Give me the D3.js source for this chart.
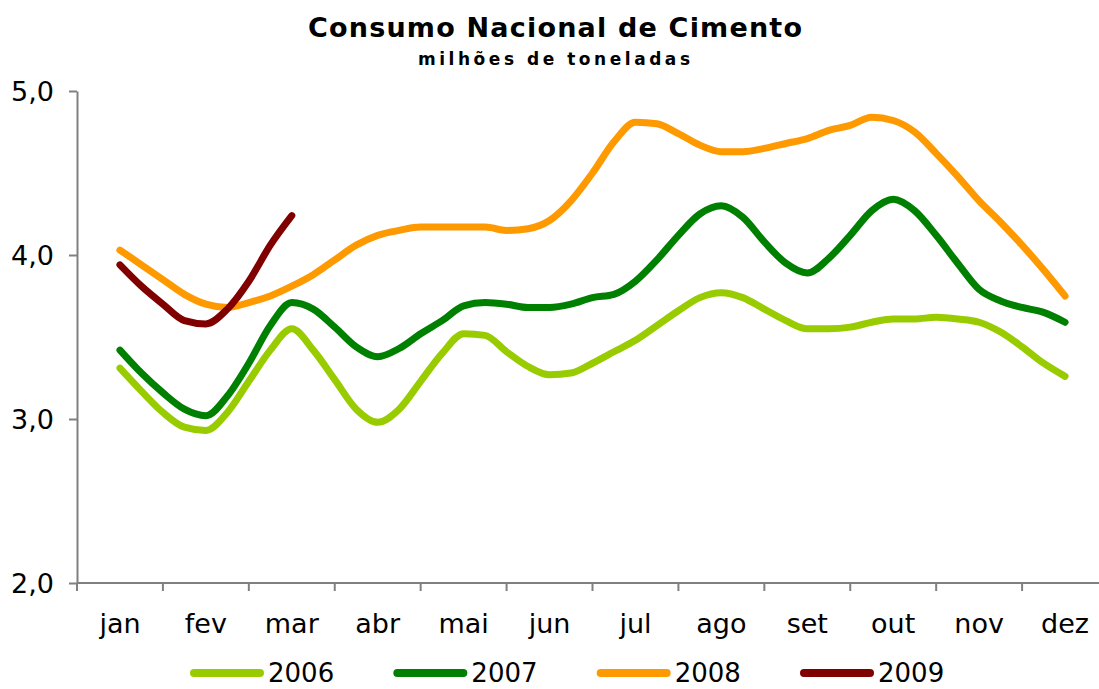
<!DOCTYPE html>
<html>
<head>
<meta charset="utf-8">
<script src="https://cdn.jsdelivr.net/npm/d3@7"></script>
<style>
  html, body { margin: 0; padding: 0; background: #fff; }
  svg { display: block; }
  text { font-family: "DejaVu Sans", Verdana, sans-serif; fill: #000; }
</style>
</head>
<body>
<svg id="chart" width="1099" height="689"></svg>
<script>
// ---- data ----
const months = ["jan","fev","mar","abr","mai","jun","jul","ago","set","out","nov","dez"];
const yTickValues = [2, 3, 4, 5];
const yTickLabels = ["2,0", "3,0", "4,0", "5,0"];
const pointsPerMonth = 4; // samples read every quarter of a month
const years = ["2006", "2007", "2008", "2009"];
const s2006 = [3.31,3.17,3.04,2.95,2.93,3.04,3.23,3.42,3.55,3.42,3.24,3.06,2.98,3.06,3.23,3.40,3.52,3.51,3.41,3.32,3.27,3.28,3.34,3.41,3.48,3.57,3.66,3.74,3.77,3.74,3.67,3.60,3.55,3.55,3.56,3.59,3.61,3.61,3.62,3.61,3.59,3.53,3.44,3.34,3.26];
const s2007 = [3.42,3.28,3.16,3.06,3.02,3.14,3.34,3.57,3.71,3.67,3.56,3.44,3.38,3.43,3.52,3.60,3.69,3.71,3.70,3.68,3.68,3.70,3.74,3.76,3.84,3.97,4.12,4.25,4.30,4.23,4.08,3.95,3.89,3.98,4.12,4.27,4.34,4.27,4.12,3.95,3.79,3.72,3.68,3.65,3.59];
const s2008 = [4.03,3.94,3.85,3.76,3.70,3.68,3.71,3.75,3.81,3.88,3.97,4.06,4.12,4.15,4.17,4.17,4.17,4.17,4.15,4.16,4.21,4.33,4.50,4.69,4.81,4.80,4.74,4.67,4.63,4.63,4.65,4.68,4.71,4.76,4.79,4.84,4.82,4.75,4.62,4.48,4.33,4.20,4.06,3.91,3.75];
const s2009 = [3.94,3.81,3.70,3.60,3.58,3.67,3.84,4.06,4.24];
const colors = ["#99CC00", "#008000", "#FF9900", "#800000"];

const seriesList = [s2006, s2007, s2008, s2009];

// ---- layout ----
const svg = d3.select("#chart");
const plotLeft = 77, plotRight = 1108, plotTop = 91, plotBottom = 583;

const xBand = d3.scaleBand().domain(months).range([plotLeft, plotRight]).padding(0);
const x = d3.scaleLinear().domain([-0.5, months.length - 0.5]).range([plotLeft, plotRight]);
const y = d3.scaleLinear().domain([2, 5]).range([plotBottom, plotTop]);

// title
svg.append("text")
  .attr("x", 555).attr("y", 37)
  .attr("text-anchor", "middle")
  .attr("textLength", 494).attr("lengthAdjust", "spacing")
  .style("font-weight", "bold").style("font-size", "27px")
  .text("Consumo Nacional de Cimento");
svg.append("text")
  .attr("x", 554).attr("y", 65)
  .attr("text-anchor", "middle")
  .attr("textLength", 272).attr("lengthAdjust", "spacing")
  .style("font-weight", "bold").style("font-size", "17px")
  .text("milhões de toneladas");

// y axis
const yAxis = d3.axisLeft(y)
  .tickValues(yTickValues)
  .tickFormat((d, i) => yTickLabels[i])
  .tickSizeInner(8).tickSizeOuter(0).tickPadding(15);
const gy = svg.append("g").attr("transform", `translate(${plotLeft},0)`).call(yAxis);
gy.select(".domain").attr("stroke", "#808080").attr("stroke-width", 2);
gy.selectAll(".tick line").attr("stroke", "#808080").attr("stroke-width", 2);
gy.selectAll(".tick text")
  .attr("dy", "0.36em")
  .style("font-size", "27px")
  .style("font-family", "'DejaVu Sans', Verdana, sans-serif")
  .attr("fill", "#000");

// x axis (labels centered, ticks on category boundaries)
const xAxis = d3.axisBottom(xBand).tickSize(0).tickPadding(0);
const gx = svg.append("g").attr("transform", `translate(0,${plotBottom})`).call(xAxis);
gx.select(".domain").remove();
gx.selectAll(".tick text")
  .attr("y", 50).attr("dy", 0)
  .style("font-size", "27px")
  .style("font-family", "'DejaVu Sans', Verdana, sans-serif")
  .attr("fill", "#000");
svg.append("line")
  .attr("x1", plotLeft).attr("x2", plotRight)
  .attr("y1", plotBottom).attr("y2", plotBottom)
  .attr("stroke", "#808080").attr("stroke-width", 2);
svg.append("g").selectAll("line")
  .data(d3.range(months.length + 1))
  .join("line")
  .attr("x1", i => x(i - 0.5)).attr("x2", i => x(i - 0.5))
  .attr("y1", plotBottom).attr("y2", plotBottom + 8)
  .attr("stroke", "#808080").attr("stroke-width", 2);

// lines
const line = d3.line()
  .x((d, i) => x(i / pointsPerMonth))
  .y(d => y(d))
  .curve(d3.curveMonotoneX);

svg.append("g").selectAll("path")
  .data(seriesList)
  .join("path")
  .attr("d", d => line(d))
  .attr("fill", "none")
  .attr("stroke", (d, i) => colors[i])
  .attr("stroke-width", 7)
  .attr("stroke-linecap", "round")
  .attr("stroke-linejoin", "round");

// legend
const legendX = d3.scalePoint().domain(years).range([194, 804]);
const lg = svg.append("g").selectAll("g")
  .data(years)
  .join("g")
  .attr("transform", d => `translate(${legendX(d)},673)`);
lg.append("line")
  .attr("x1", 0).attr("x2", 66)
  .attr("y1", 0).attr("y2", 0)
  .attr("stroke", (d, i) => colors[i])
  .attr("stroke-width", 8)
  .attr("stroke-linecap", "round");
lg.append("text")
  .attr("x", 74).attr("y", 9)
  .style("font-size", "26px")
  .text(d => d);
</script>
</body>
</html>
